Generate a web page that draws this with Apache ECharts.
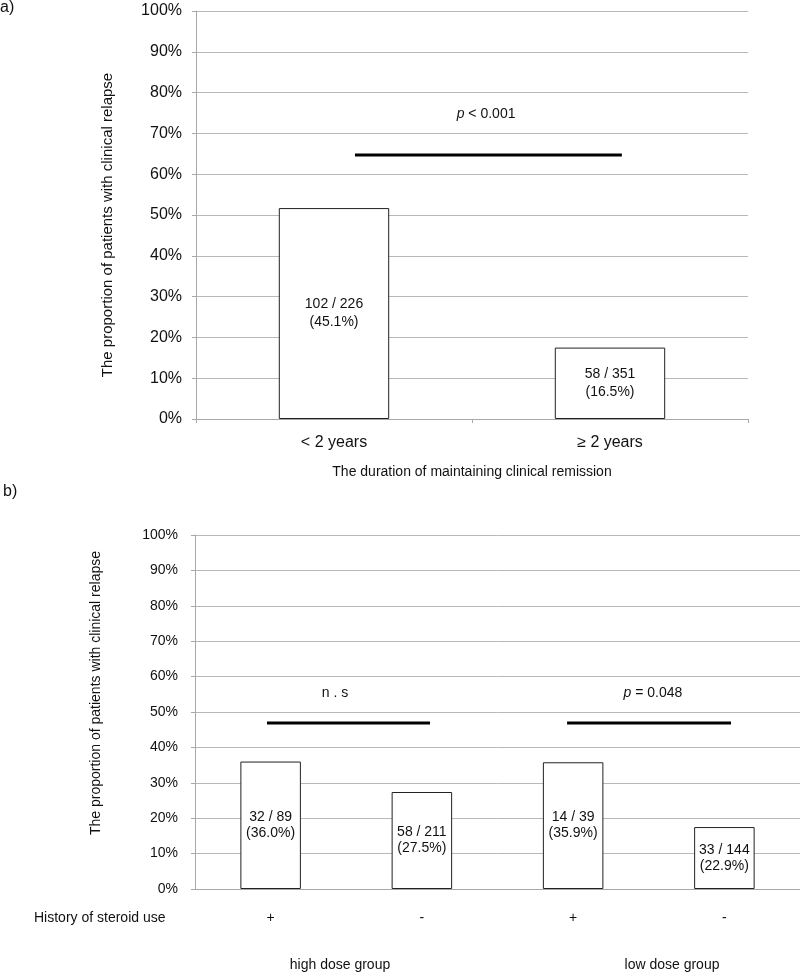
<!DOCTYPE html>
<html>
<head>
<meta charset="utf-8">
<script src="https://cdn.jsdelivr.net/npm/echarts@6/dist/echarts.min.js"></script>
<style>
html,body{margin:0;padding:0;background:#fff;}
#c{width:800px;height:973px;}
</style>
</head>
<body>
<div id="c"></div>
<script>
// ---- Panel a data ----
var catsA = ['< 2 years', '≥ 2 years'];
var valsA = [51.7, 17.5];
var barTextA = ['102 / 226\n(45.1%)', '58 / 351\n(16.5%)'];
var sigLinesA = [[0.076, 1.043, 64.7]];          // [xStart, xEnd, y] in category units
var sigTextsA = [[0.551, 74.8, 'p < 0.001']];     // [x, y, text]
var xTitleA = 'The duration of maintaining clinical remission';

// ---- Panel b data ----
var catsB = ['+', '-', '+', '-'];
var valsB = [36.0, 27.4, 35.8, 17.5];
var barTextB = ['32 / 89\n(36.0%)', '58 / 211\n(27.5%)', '14 / 39\n(35.9%)', '33 / 144\n(22.9%)'];
var sigLinesB = [[-0.024, 1.054, 46.9], [1.96, 3.044, 46.9]];
var sigTextsB = [[0.426, 55.4, 'n . s'], [2.528, 55.4, 'p = 0.048']];
var groupNamesB = ['high dose group', 'low dose group'];
var rowLabelB = 'History of steroid use';

var yTitle = 'The proportion of patients with clinical relapse';
var yTicks = [0, 10, 20, 30, 40, 50, 60, 70, 80, 90, 100];

var FONT = '"Liberation Sans", Arial, sans-serif';
var GRID_COLOR = '#b8b8b8';
var AXIS_COLOR = '#a8a8a8';
var TEXT = '#111';

function yAxisCfg(gridIndex, fs, margin) {
  return {
    type: 'value', gridIndex: gridIndex, min: yTicks[0], max: yTicks[yTicks.length - 1], interval: 10,
    axisLine: {show: true, onZero: false, lineStyle: {color: AXIS_COLOR, width: 1}},
    axisTick: {show: true, length: 4, lineStyle: {color: AXIS_COLOR}},
    splitLine: {show: true, lineStyle: {color: GRID_COLOR, width: 1}},
    axisLabel: {formatter: '{value}%', color: TEXT, fontSize: fs, fontFamily: FONT, margin: margin}
  };
}

function sigSeries(lines, xIdx, yIdx) {
  return lines.map(function (l) {
    return {
      type: 'line', xAxisIndex: xIdx, yAxisIndex: yIdx, symbol: 'none', silent: true,
      lineStyle: {color: '#000', width: 3}, data: [[l[0], l[2]], [l[1], l[2]]], z: 5
    };
  });
}

function textSeries(texts, xIdx, yIdx) {
  return {
    type: 'scatter', xAxisIndex: xIdx, yAxisIndex: yIdx, symbolSize: 0, silent: true,
    itemStyle: {opacity: 1},
    data: texts.map(function (t) { return {value: [t[0], t[1]], name: t[2]}; }),
    label: {
      show: true, position: 'inside', color: TEXT, opacity: 1, fontSize: 14, fontFamily: FONT,
      formatter: function (p) { return p.name.replace(/^p /, '{i|p} '); },
      rich: {i: {fontStyle: 'italic', fontSize: 14, fontFamily: FONT, color: TEXT}}
    }
  };
}

var chart = echarts.init(document.getElementById('c'), null, {renderer: 'canvas'});

var option = {
  backgroundColor: '#fff',
  animation: false,
  grid: [
    {left: 196, top: 11, width: 552, height: 408},
    {left: 195, top: 535, width: 605, height: 354}
  ],
  xAxis: [
    {
      type: 'category', gridIndex: 0, data: catsA,
      axisLine: {show: true, lineStyle: {color: AXIS_COLOR}},
      axisTick: {show: true, length: 4, lineStyle: {color: AXIS_COLOR}},
      axisLabel: {color: TEXT, fontSize: 16, fontFamily: FONT, margin: 16},
      name: xTitleA, nameLocation: 'middle', nameGap: 46,
      nameTextStyle: {color: TEXT, fontSize: 14, fontFamily: FONT}
    },
    {
      type: 'category', gridIndex: 1, data: catsB,
      axisLine: {show: true, lineStyle: {color: AXIS_COLOR}},
      axisTick: {show: false},
      axisLabel: {color: TEXT, fontSize: 14, fontFamily: FONT, margin: 22}
    },
    {type: 'value', gridIndex: 0, min: -0.5, max: catsA.length - 0.5, show: false},
    {type: 'value', gridIndex: 1, min: -0.5, max: catsB.length - 0.5, show: false}
  ],
  yAxis: [yAxisCfg(0, 16, 14), yAxisCfg(1, 14, 17)],
  series: [
    {
      type: 'bar', xAxisIndex: 0, yAxisIndex: 0, barWidth: '40%',
      data: valsA.map(function (v, i) { return {value: v, name: barTextA[i]}; }),
      itemStyle: {color: '#fff', borderColor: '#222', borderWidth: 1},
      label: {show: true, position: 'inside', formatter: function (p) { return p.name; },
        color: TEXT, fontSize: 14, lineHeight: 18, fontFamily: FONT}
    },
    {
      type: 'bar', xAxisIndex: 1, yAxisIndex: 1, barWidth: '40%',
      data: valsB.map(function (v, i) { return {value: v, name: barTextB[i]}; }),
      itemStyle: {color: '#fff', borderColor: '#222', borderWidth: 1},
      label: {show: true, position: 'inside', formatter: function (p) { return p.name; },
        color: TEXT, fontSize: 14, lineHeight: 16, fontFamily: FONT}
    },
    textSeries(sigTextsA, 2, 0),
    textSeries(sigTextsB, 3, 1)
  ].concat(sigSeries(sigLinesA, 2, 0)).concat(sigSeries(sigLinesB, 3, 1)),
  graphic: [
    {type: 'text', left: 0, top: 0, style: {text: 'a)', fontSize: 16, fontFamily: FONT, fill: TEXT}},
    {type: 'text', left: 3, top: 484, style: {text: 'b)', fontSize: 16, fontFamily: FONT, fill: TEXT}},
    {type: 'text', x: 108, y: 225, rotation: Math.PI / 2,
      style: {text: yTitle, fontSize: 15, fontFamily: FONT, fill: TEXT, align: 'center', verticalAlign: 'middle'}},
    {type: 'text', x: 96, y: 693, rotation: Math.PI / 2,
      style: {text: yTitle, fontSize: 14, fontFamily: FONT, fill: TEXT, align: 'center', verticalAlign: 'middle'}},
    {type: 'text', x: 34, y: 918,
      style: {text: rowLabelB, fontSize: 14, fontFamily: FONT, fill: TEXT, align: 'left', verticalAlign: 'middle'}},
    {type: 'text', x: 340, y: 965,
      style: {text: groupNamesB[0], fontSize: 14, fontFamily: FONT, fill: TEXT, align: 'center', verticalAlign: 'middle'}},
    {type: 'text', x: 672, y: 965,
      style: {text: groupNamesB[1], fontSize: 14, fontFamily: FONT, fill: TEXT, align: 'center', verticalAlign: 'middle'}}
  ]
};
chart.setOption(option);
</script>
</body>
</html>
